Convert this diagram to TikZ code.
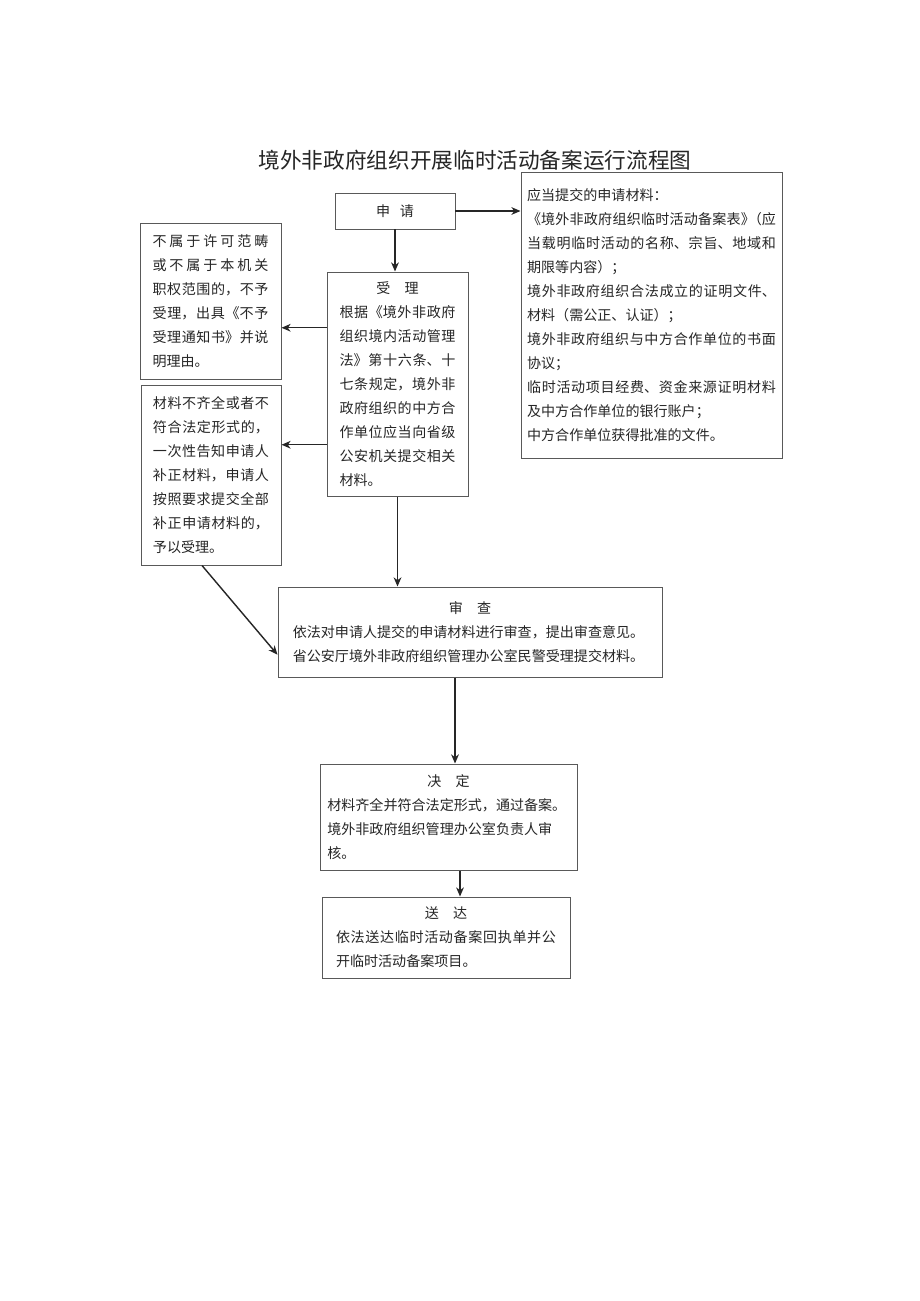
\documentclass[tikz,border=0pt]{standalone}
\usepackage{fontspec}
\setmainfont{Noto Sans CJK SC}
\usetikzlibrary{positioning,calc,arrows.meta}
\XeTeXlinebreaklocale "zh"
\XeTeXlinebreakskip=0pt plus 0.3em
\setlength{\parindent}{0pt}

\begin{document}
\begin{tikzpicture}[x=0.25mm,y=-0.25mm,>={Stealth[length=6.5pt,width=5.5pt,inset=2pt]},
                title/.style={font=\fontsize{15.4pt}{15.4pt}\selectfont,text=black!85,inner sep=0pt},
                plain box/.style={draw=black!65,line width=0.7pt,inner sep=0pt,text=black!85,font=\fontsize{10pt}{17pt}\selectfont},
                flow box/.style={plain box,align=justify,font=\fontsize{10pt}{17.07pt}\selectfont},
                link/.style={->,line width=1pt,black!85}]
\path[use as bounding box,fill=white] (0,0) rectangle (920,1301);
%Nodes
    \node[title] (title) at (475,160) {境外非政府组织开展临时活动备案运行流程图};
    \node[plain box,minimum width=30mm,minimum height=9mm] (apply) at (395,211) {申\hspace{0.7em}请};
    \node[flow box,text width=62.2mm,minimum width=65.25mm,minimum height=71.5mm] (materials) at (651.5,315)
        {应当提交的申请材料：\\
         《境外非政府组织临时活动备案表》\kern-0.5em（应\linebreak
         当载明临时活动的名称、宗旨、地域和\linebreak
         期限等内容）；\\
         境外非政府组织合法成立的证明文件、\linebreak
         材料（需公正、认证）；\\
         境外非政府组织与中方合作单位的书面\linebreak
         协议；\\
         临时活动项目经费、资金来源证明材料\linebreak
         及中方合作单位的银行账户；\\
         中方合作单位获得批准的文件。};
    \node[flow box,text width=29mm,minimum width=35.25mm,minimum height=56mm] (accept) at (397.5,384)
        {\makebox[\hsize]{受\quad 理}\\
         根据《境外非政府\linebreak
         组织境内活动管理\linebreak
         法》第十六条、十\linebreak
         七条规定，境外非\linebreak
         政府组织的中方合\linebreak
         作单位应当向省级\linebreak
         公安机关提交相关\linebreak
         材料。};
    \node[flow box,text width=29mm,minimum width=35.25mm,minimum height=39mm] (reject) at (210.5,301)
        {不属于许可范畴\linebreak
         或不属于本机关\linebreak
         职权范围的，不予\linebreak
         受理，出具《不予\linebreak
         受理通知书》并说\linebreak
         明理由。};
    \node[flow box,text width=29mm,minimum width=35mm,minimum height=45mm] (supplement) at (211,475)
        {材料不齐全或者不\linebreak
         符合法定形式的，\linebreak
         一次性告知申请人\linebreak
         补正材料，申请人\linebreak
         按照要求提交全部\linebreak
         补正申请材料的，\linebreak
         予以受理。};
    \node[flow box,text width=88.6mm,minimum width=96mm,minimum height=22.5mm] (review) at (470,632)
        {\makebox[\hsize]{审\quad 查}\\
         依法对申请人提交的申请材料进行审查，提出审查意见。\\
         省公安厅境外非政府组织管理办公室民警受理提交材料。};
    \node[flow box,text width=60.6mm,minimum width=64.25mm,minimum height=26.5mm] (decide) at (448.5,817)
        {\makebox[\hsize]{决\quad 定}\\
         材料齐全并符合法定形式，通过备案。\\
         境外非政府组织管理办公室负责人审\\
         核。};
    \node[flow box,text width=55mm,minimum width=62mm,minimum height=20.25mm] (deliver) at (446,937.5)
        {\makebox[\hsize]{送\quad 达}\\
         依法送达临时活动备案回执单并公\linebreak
         开临时活动备案项目。};

    \draw[link] (apply.east) -- (apply.east -| materials.west);
    \draw[link] (apply.south) -- (apply.south |- accept.north);
    \draw[link] ($(accept.west)!0.5!(accept.north west)$) coordinate (a1) -- (a1 -| reject.east);
    \draw[link] ($(accept.west)!0.54!(accept.south west)$) coordinate (a2) -- (a2 -| supplement.east);
    \draw[link] (accept.south) -- (accept.south |- review.north);
    \draw[link] ($(supplement.south)+(-9,0)$) -- ($(review.west)!0.5!(review.south west)$);
    \draw[link] ($(review.south)+(-15,0)$) coordinate (r1) -- (r1 |- decide.north);
    \draw[link] ($(decide.south)+(11.5,0)$) coordinate (d1) -- (d1 |- deliver.north);
\end{tikzpicture}
\end{document}
